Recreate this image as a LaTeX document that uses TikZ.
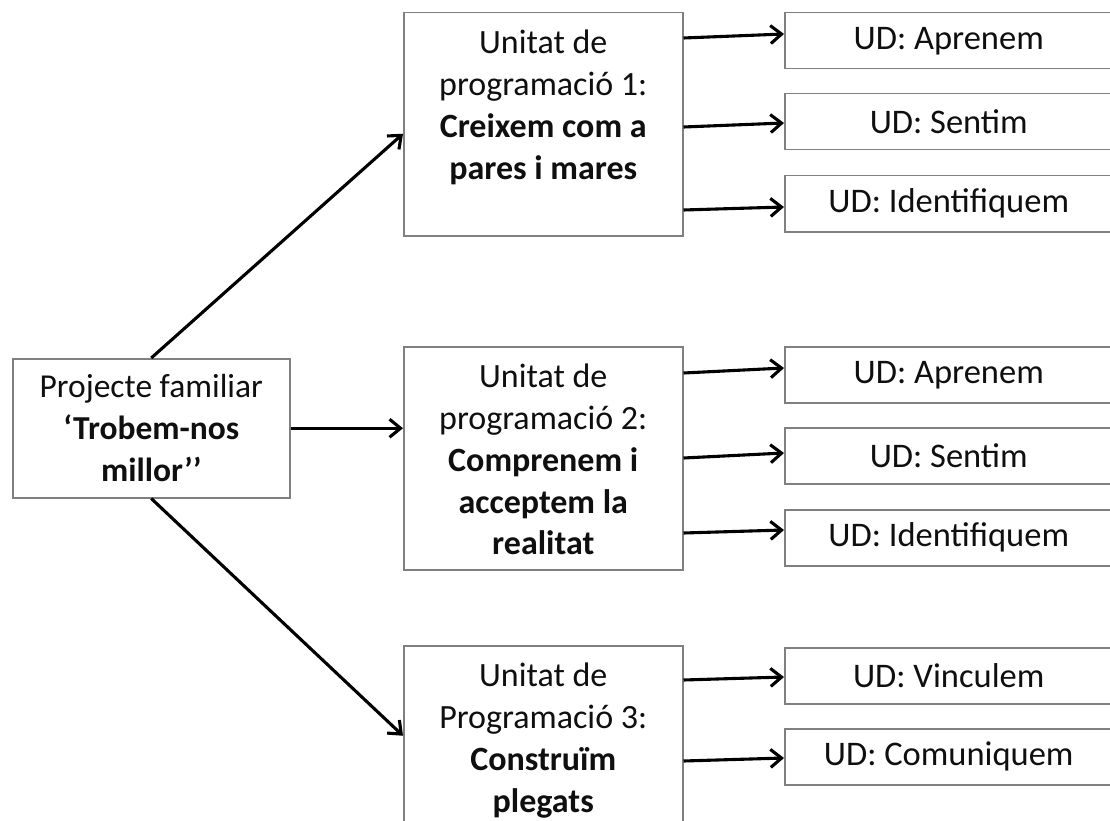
\documentclass[tikz,border=0pt]{standalone}
\usepackage{fontspec}
\setmainfont{Carlito}
\usetikzlibrary{arrows.meta,calc}
\definecolor{boxgray}{RGB}{128,128,128}
\definecolor{txt}{RGB}{15,15,15}
\newcommand{\unittext}[1]{\parbox[t][223pt][t]{279pt}{\centering\fontsize{34}{41.7}\selectfont\vspace*{12pt}\strut #1}}
\begin{document}
\begin{tikzpicture}[x=1pt,y=-1pt,
  box/.style={draw=boxgray,line width=1.5pt,inner sep=0pt,anchor=north west,text=txt,fill=white},
  ud/.style={box,minimum width=328pt,minimum height=56pt,font=\fontsize{34.5}{40}\selectfont},
  arr/.style={line width=3.1pt,-{Straight Barb[length=11pt,width=18pt]}}]
\useasboundingbox (0,0) rectangle (1110,821);
\clip (0,0) rectangle (1110,821);
\fill[white] (0,0) rectangle (1110,821);

% root
\node[box,minimum width=277pt,minimum height=139pt,align=center,font=\fontsize{33.5}{42}\selectfont] (root) at (12,358)
  {Projecte familiar\\\textbf{‘Trobem-nos}\\\textbf{millor’\kern0pt’}};

% units
\node[box] (u1) at (403,12) {\unittext{Unitat de\\programació 1:\\\textbf{Creixem com a}\\\textbf{pares i mares}}};
\node[box] (u2) at (403,346) {\unittext{Unitat de\\programació 2:\\\textbf{Comprenem i}\\\textbf{acceptem la}\\\textbf{realitat}}};
\node[box] (u3) at (403,645) {\unittext{Unitat de\\Programació 3:\\\textbf{Construïm}\\\textbf{plegats}}};

% UD boxes
\node[ud] (a1) at (784,12) {UD: Aprenem};
\node[ud] (s1) at (784,93) {UD: Sentim};
\node[ud] (i1) at (784,175) {UD: Identifiquem};
\node[ud] (a2) at (784,346) {UD: Aprenem};
\node[ud] (s2) at (784,427) {UD: Sentim};
\node[ud] (i2) at (784,509) {UD: Identifiquem};
\node[ud] (v3) at (784,647) {UD: Vinculem};
\node[ud] (c3) at (784,728) {UD: Comuniquem};

% root connectors
\draw[arr] (root.north) -- ([yshift=-9.5pt]u1.west);
\draw[arr] (root.east) -- (root.east -| u2.west);
\draw[arr] (root.south) -- ([yshift=21.5pt]u3.west);

% unit connectors
\draw[arr] (u1.east |- 0,38) -- (a1.west |- 0,34);
\draw[arr] (u1.east |- 0,127) -- (s1.west |- 0,123);
\draw[arr] (u1.east |- 0,210) -- (i1.west |- 0,207);
\draw[arr] (u2.east |- 0,373) -- (a2.west |- 0,368);
\draw[arr] (u2.east |- 0,458) -- (s2.west |- 0,453);
\draw[arr] (u2.east |- 0,533) -- (i2.west |- 0,530);
\draw[arr] (u3.east |- 0,680) -- (v3.west |- 0,677);
\draw[arr] (u3.east |- 0,761) -- (c3.west |- 0,758);
\end{tikzpicture}
\end{document}
